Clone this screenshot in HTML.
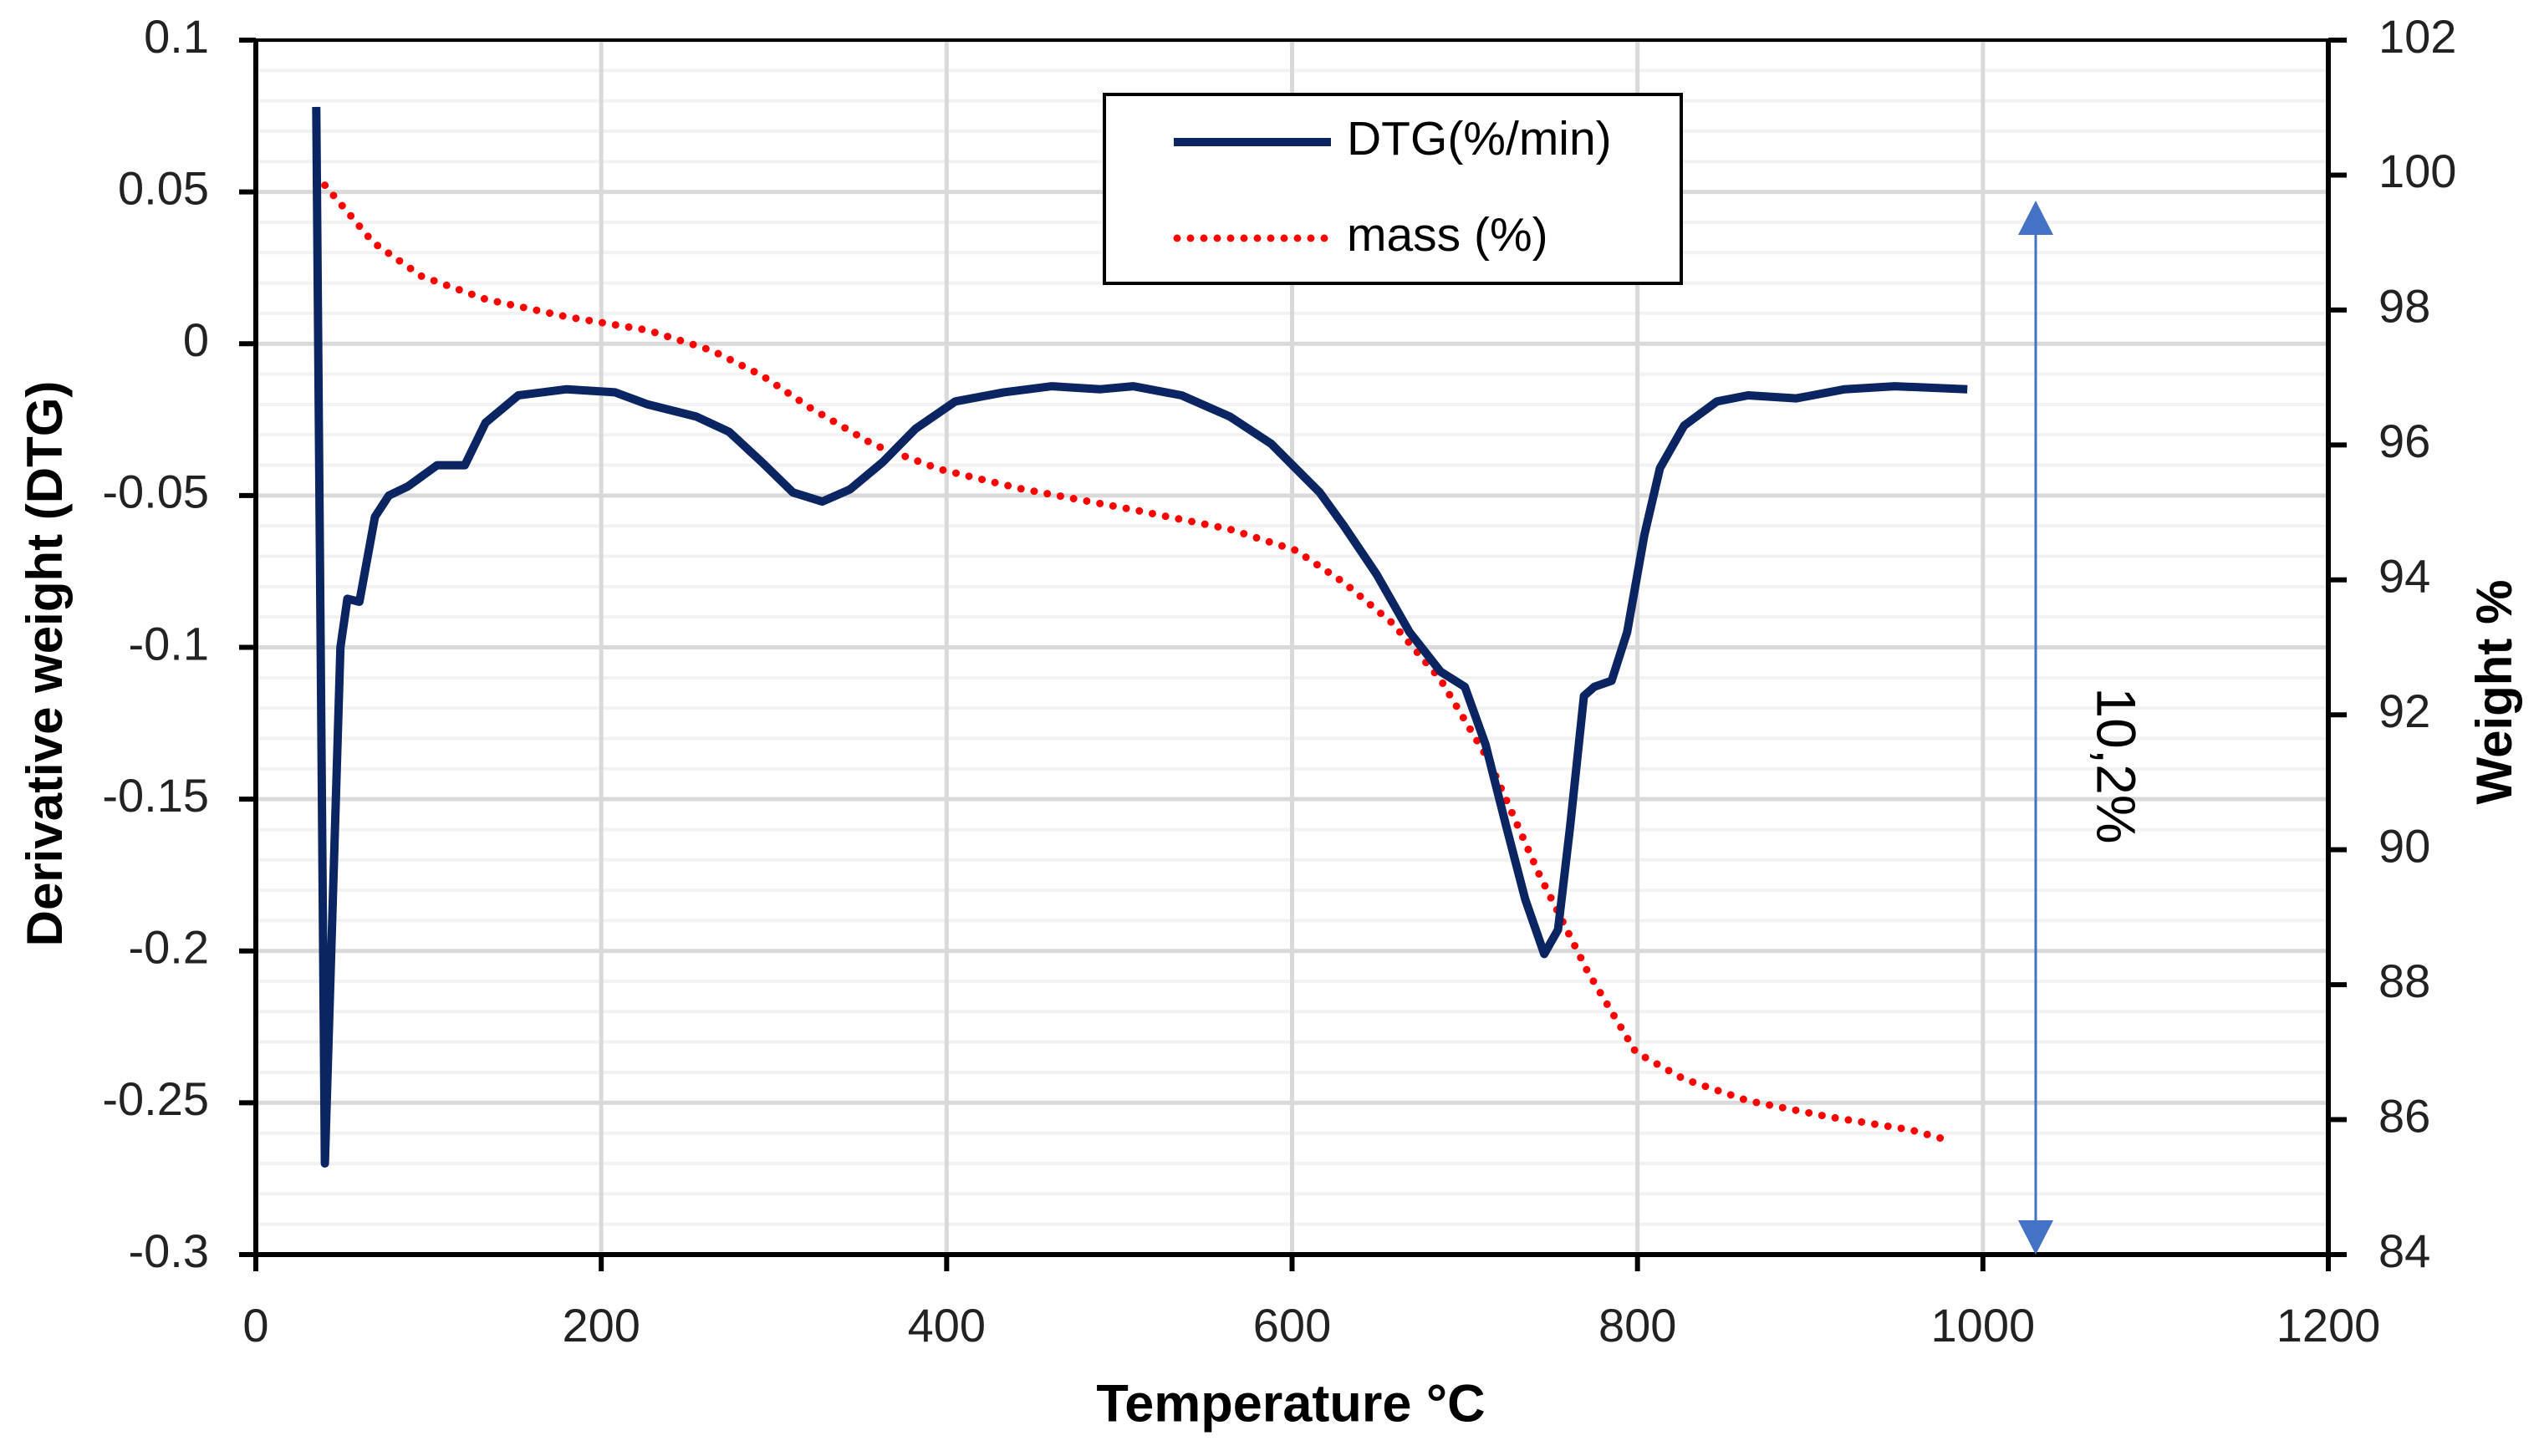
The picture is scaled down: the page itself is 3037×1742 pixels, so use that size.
<!DOCTYPE html>
<html><head><meta charset="utf-8"><style>
html,body{margin:0;padding:0;background:#fff;}
svg{display:block;font-family:"Liberation Sans",sans-serif;}
</style></head><body>
<svg id="chart" width="3037" height="1742" viewBox="0 0 3037 1742" xmlns="http://www.w3.org/2000/svg">
<g id="grid"></g>
<g id="axes"></g>
<g id="series"></g>
<g>
<line x1="2435" y1="270" x2="2435" y2="1472" stroke="#4472c4" stroke-width="3"/>
<polygon points="2414,281 2456,281 2435,240" fill="#4472c4"/>
<polygon points="2414,1460 2456,1460 2435,1501" fill="#4472c4"/>
<text x="2526" y="916" font-size="66" text-anchor="middle" dominant-baseline="middle" transform="rotate(90 2526 916)">10,2%</text>
</g>
<g>
<rect x="1321" y="113" width="690" height="226" fill="#fff" stroke="#000" stroke-width="4"/>
<line x1="1404" y1="170" x2="1592" y2="170" stroke="#0b2462" stroke-width="10"/>
<text x="1611" y="170" font-size="57" dominant-baseline="middle">DTG(%/min)</text>
<line x1="1408" y1="285" x2="1592" y2="285" stroke="#ff0000" stroke-width="9" stroke-linecap="round" stroke-dasharray="0 16"/>
<text x="1611" y="285" font-size="57" dominant-baseline="middle">mass (%)</text>
</g>
<text x="1544" y="1684" font-size="63" font-weight="bold" text-anchor="middle" dominant-baseline="middle">Temperature °C</text>
<text x="58" y="794" font-size="60" font-weight="bold" text-anchor="middle" dominant-baseline="middle" transform="rotate(-90 58 794)">Derivative weight (DTG)</text>
<text x="2988" y="828" font-size="60" font-weight="bold" text-anchor="middle" dominant-baseline="middle" transform="rotate(-90 2988 828)">Weight %</text>
</svg>
<script>
const xTicks=[0,200,400,600,800,1000,1200];
const yLeftTicks=[0.1,0.05,0,-0.05,-0.1,-0.15,-0.2,-0.25,-0.3];
const yLeftLabels=["0.1","0.05","0","-0.05","-0.1","-0.15","-0.2","-0.25","-0.3"];
const yRightTicks=[102,100,98,96,94,92,90,88,86,84];
const dtgT=[35,40,49,53,60,69,77,88,105,121,133,152,180,208,227,255,274,293,311,328,344,363,382,405,433,461,489,508,536,564,588,602,616,630,649,668,686,700,712,724,735,746,754,761,769,775,785,794,804,813,827,846,864,892,920,949,991];
const dtgV=[0.078,-0.27,-0.1,-0.084,-0.085,-0.057,-0.05,-0.047,-0.04,-0.04,-0.026,-0.017,-0.015,-0.016,-0.02,-0.024,-0.029,-0.039,-0.049,-0.052,-0.048,-0.039,-0.028,-0.019,-0.016,-0.014,-0.015,-0.014,-0.017,-0.024,-0.033,-0.041,-0.049,-0.06,-0.076,-0.095,-0.108,-0.113,-0.132,-0.159,-0.183,-0.201,-0.193,-0.159,-0.116,-0.113,-0.111,-0.095,-0.063,-0.041,-0.027,-0.019,-0.017,-0.018,-0.015,-0.014,-0.015];
const massT=[35,68,96,133,180,227,264,293,321,358,396,443,508,564,602,630,658,686,714,743,771,799,827,864,911,958,982];
const massW=[100,99.0,98.5,98.16,97.9,97.7,97.4,97.03,96.55,96.0,95.64,95.35,95.04,94.75,94.44,93.96,93.36,92.52,91.32,89.64,88.2,87.0,86.6,86.28,86.04,85.85,85.68];

const L=306,R=2785,T=48,B=1501;
const xs=t=>L+(t-0)/1200*(R-L);
const yl=v=>T+(0.1-v)/0.4*(B-T);
const yr=w=>T+(102-w)/18*(B-T);
const NS="http://www.w3.org/2000/svg";
function mk(tag,attrs,parent){const e=document.createElementNS(NS,tag);for(const k in attrs)e.setAttribute(k,attrs[k]);parent.appendChild(e);return e;}
const grid=document.getElementById('grid'),axes=document.getElementById('axes'),series=document.getElementById('series');
for(let i=0;i<=40;i++){const v=0.1-i*0.01;const y=yl(v);const major=i%5===0;
 const g=mk('line',{x1:L,x2:R,y1:y,y2:y,stroke:major?'#d9d9d9':'#f2f2f2','stroke-width':major?5:4},grid);
 
 }
xTicks.forEach(t=>{if(t===0||t===1200)return;const g=mk('line',{x1:xs(t),x2:xs(t),y1:T,y2:B,stroke:'#d9d9d9','stroke-width':5},grid);
 
 });
[[L,T,L,B],[R,T,R,B],[L,B,R,B],[L,T,R,T]].forEach(a=>{const e=mk('line',{x1:a[0],y1:a[1],x2:a[2],y2:a[3],stroke:'#000','stroke-width':a[1]===T&&a[3]===T?4:6},axes);
 
 });
xTicks.forEach(t=>{const x=xs(t);const tk=mk('line',{x1:x,x2:x,y1:B,y2:B+20,stroke:'#000','stroke-width':6},axes);
 
 
 const tx=mk('text',{x:x,y:1590,'font-size':56,'text-anchor':'middle','dominant-baseline':'middle',fill:'#222'},axes);tx.textContent=t;
 
 });
yLeftTicks.forEach((v,i)=>{const y=yl(v);const tk=mk('line',{x1:L-20,x2:L,y1:y,y2:y,stroke:'#000','stroke-width':6},axes);
 
 
 const tx=mk('text',{x:250,y:y,'font-size':56,'text-anchor':'end','dominant-baseline':'middle',fill:'#222'},axes);tx.textContent=yLeftLabels[i];
 
 });
yRightTicks.forEach(w=>{const y=yr(w);const tk=mk('line',{x1:R,x2:R+22,y1:y,y2:y,stroke:'#000','stroke-width':6},axes);
 
 
 const tx=mk('text',{x:2845,y:y,'font-size':56,'text-anchor':'start','dominant-baseline':'middle',fill:'#222'},axes);tx.textContent=w;
 
 });
const massPts=massT.map((t,i)=>xs(t).toFixed(1)+','+yr(massW[i]).toFixed(1)).join(' ');
const mp=mk('polyline',{points:massPts,fill:'none',stroke:'#ff0000','stroke-width':9,'stroke-linecap':'round','stroke-dasharray':'0 16'},series);


const dtgPts=dtgT.map((t,i)=>xs(t).toFixed(1)+','+yl(dtgV[i]).toFixed(1)).join(' ');
const dp=mk('polyline',{points:dtgPts,fill:'none',stroke:'#0b2462','stroke-width':10,'stroke-linejoin':'round'},series);


</script>
</body></html>
